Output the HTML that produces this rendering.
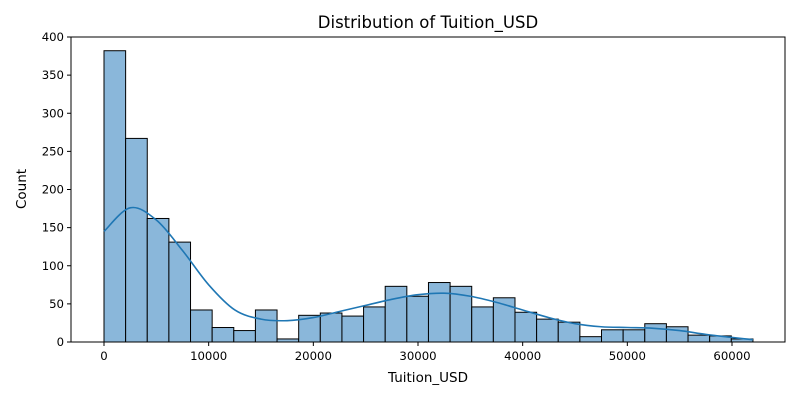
<!DOCTYPE html>
<html><head><meta charset="utf-8"><style>
body{margin:0;background:#fff;font-family:"DejaVu Sans",sans-serif}
svg text{font-family:"DejaVu Sans",sans-serif;fill:#000}
</style></head><body>
<svg id="c" width="800" height="400"></svg>
<script>
const binEdgesMax = 62000;
const counts = [382,267,162,131,42,19,15,42,4,35,38,34,46,73,60,78,73,46,58,39,30,26,7,16,16,24,20,9,8,4];
const kdeX = [0,2500,5000,7500,10000,12500,15000,17500,20000,22500,25000,27500,30000,32500,35000,37500,40000,42500,45000,47500,50000,52500,55000,57500,60000,62000];
const kdeY = [145,176,160,120,75,42,30,28,32,40,48,56,62,64,60,52,42,32,24,20,19,18,15,10,6,3];
const yTicks = [0,50,100,150,200,250,300,350,400];
const xTicks = [0,10000,20000,30000,40000,50000,60000];
const L=71,R=785,T=37,B=342;
const sx=v=>104+v*(732-104)/60000;
const sy=v=>B-v*(B-T)/400;
const svg=document.getElementById('c');const NS='http://www.w3.org/2000/svg';
function el(t,a,txt){const e=document.createElementNS(NS,t);for(const k in a)e.setAttribute(k,a[k]);if(txt!==undefined)e.textContent=txt;svg.appendChild(e);return e;}
const bw=binEdgesMax/counts.length;
counts.forEach((c,i)=>{const x0=sx(i*bw),x1=sx((i+1)*bw);
const r=el('rect',{x:x0,y:sy(c),width:x1-x0,height:B-sy(c),fill:'#8ab7da',stroke:'#000','stroke-width':1});

});
const pts=kdeX.map((x,i)=>[sx(x),sy(kdeY[i])]);
let d='M'+pts[0][0]+','+pts[0][1];
for(let i=0;i<pts.length-1;i++){const p0=pts[Math.max(0,i-1)],p1=pts[i],p2=pts[i+1],p3=pts[Math.min(pts.length-1,i+2)];
d+=` C${p1[0]+(p2[0]-p0[0])/6},${p1[1]+(p2[1]-p0[1])/6} ${p2[0]-(p3[0]-p1[0])/6},${p2[1]-(p3[1]-p1[1])/6} ${p2[0]},${p2[1]}`;}
const k=el('path',{d:d,fill:'none',stroke:'#1f77b4','stroke-width':1.6});


const f=el('rect',{x:L,y:T,width:R-L,height:B-T,fill:'none',stroke:'#000','stroke-width':1});


yTicks.forEach(v=>{el('line',{x1:L-4,x2:L,y1:sy(v),y2:sy(v),stroke:'#000'});
const t=el('text',{x:L-7,y:sy(v)+4,'text-anchor':'end','font-size':11.7},v);

});
xTicks.forEach(v=>{el('line',{x1:sx(v),x2:sx(v),y1:B,y2:B+4,stroke:'#000'});
const t=el('text',{x:sx(v),y:B+18,'text-anchor':'middle','font-size':11.7},v);

});
const tt=el('text',{x:428,y:28,'text-anchor':'middle','font-size':16.5},'Distribution of Tuition_USD');


const xt=el('text',{x:428,y:382,'text-anchor':'middle','font-size':13.5},'Tuition_USD');


const yt=el('text',{x:0,y:0,'text-anchor':'middle','font-size':13.5,transform:'translate(26,189) rotate(-90)'},'Count');


</script>
</body></html>
